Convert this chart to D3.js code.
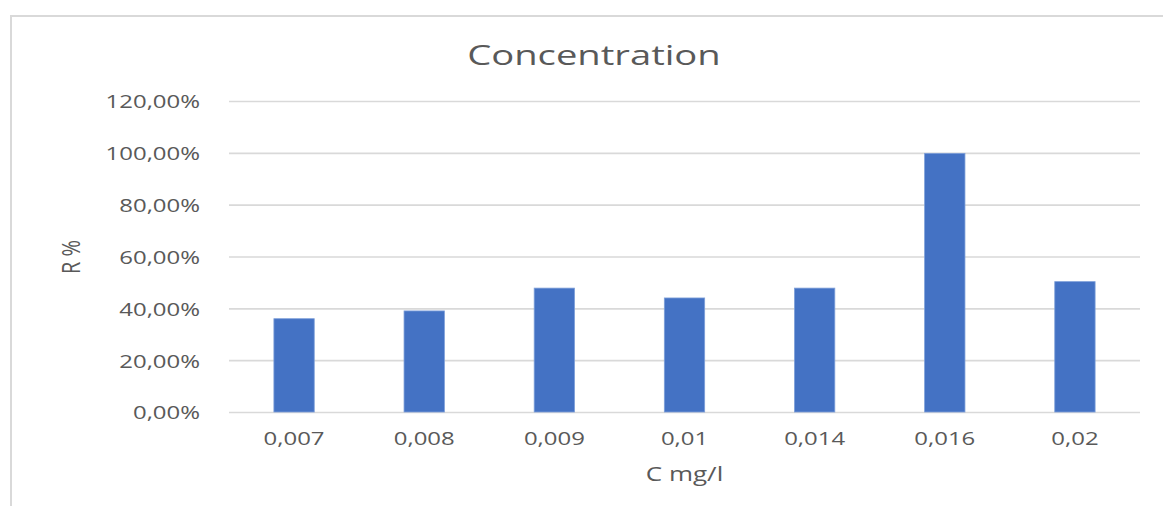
<!DOCTYPE html>
<html>
<head>
<meta charset="utf-8">
<script src="https://cdn.jsdelivr.net/npm/d3@7"></script>
<style>
  html, body { margin: 0; padding: 0; background: #fff; }
  svg { display: block; font-family: "Open Sans", sans-serif; }
</style>
</head>
<body>
<svg id="chart" width="1163" height="506"></svg>
<script>
const categories = ["0,007", "0,008", "0,009", "0,01", "0,014", "0,016", "0,02"];
const values = [0.36, 0.39, 0.478, 0.44, 0.478, 0.998, 0.503];
const yTicks = [0, 0.2, 0.4, 0.6, 0.8, 1.0, 1.2];
const yTickLabels = ["0,00%", "20,00%", "40,00%", "60,00%", "80,00%", "100,00%", "120,00%"];
const chartTitle = "Concentration";
const xTitle = "C mg/l";
const yTitle = "R %";

(function() {
const svg = d3.select("#chart");
const textColor = "#595959";
const gridColor = "#d9d9d9";

// outer chart border
svg.append("rect")
  .attr("x", 11).attr("y", 16).attr("width", 1300).attr("height", 600)
  .attr("fill", "none").attr("stroke", gridColor).attr("stroke-width", 2);

const pLeft = 229, pRight = 1140, pTop = 101, pBottom = 412;

const x = d3.scaleBand().domain(categories).range([pLeft, pRight]).paddingInner(0.69).paddingOuter(0.345);
const y = d3.scaleLinear().domain([0, 1.2]).range([pBottom, pTop]);

function stretch(sel, k) {
  sel.each(function() {
    const len = this.getComputedTextLength();
    d3.select(this).attr("textLength", len * k).attr("lengthAdjust", "spacingAndGlyphs");
  });
}

// gridlines + y labels via axis
const yAxis = d3.axisLeft(y).tickValues(yTicks)
  .tickFormat((d, i) => yTickLabels[i])
  .tickSize(-(pRight - pLeft)).tickPadding(29);
const gy = svg.append("g").attr("transform", `translate(${pLeft},0)`).call(yAxis);
gy.select(".domain").remove();
gy.selectAll(".tick line").attr("stroke", gridColor).attr("stroke-width", 1.6);
gy.selectAll(".tick text").attr("fill", textColor).attr("font-size", 19)
  .attr("font-family", "Open Sans").attr("dy", "0.36em");
stretch(gy.selectAll(".tick text"), 1.26);

// bars
svg.append("g").selectAll("rect").data(values).join("rect")
  .attr("x", (d, i) => x(categories[i]))
  .attr("width", x.bandwidth())
  .attr("y", d => y(d))
  .attr("height", d => y(0) - y(d))
  .attr("fill", "#4472c4")
  .attr("stroke", "#7d9fd9").attr("stroke-width", 0.8);

// x axis labels
const xAxis = d3.axisBottom(x).tickSize(0).tickPadding(20);
const gx = svg.append("g").attr("transform", `translate(0,${pBottom})`).call(xAxis);
gx.select(".domain").remove();
gx.selectAll(".tick text").attr("fill", textColor).attr("font-size", 19)
  .attr("font-family", "Open Sans");
stretch(gx.selectAll(".tick text"), 1.26);

// title
const t = svg.append("text").attr("x", 594).attr("y", 65).attr("text-anchor", "middle")
  .attr("fill", textColor).attr("font-size", 26.5).text(chartTitle);
stretch(t, 1.44);

// x title
const xt = svg.append("text").attr("x", (pLeft + pRight) / 2).attr("y", 481).attr("text-anchor", "middle")
  .attr("fill", textColor).attr("font-size", 20).text(xTitle);
stretch(xt, 1.3);

// y title
svg.append("text")
  .attr("transform", `translate(80,257) scale(1.3,1) rotate(-90)`)
  .attr("text-anchor", "middle")
  .attr("fill", textColor).attr("font-size", 20).text(yTitle);
})();
</script>
</body>
</html>
